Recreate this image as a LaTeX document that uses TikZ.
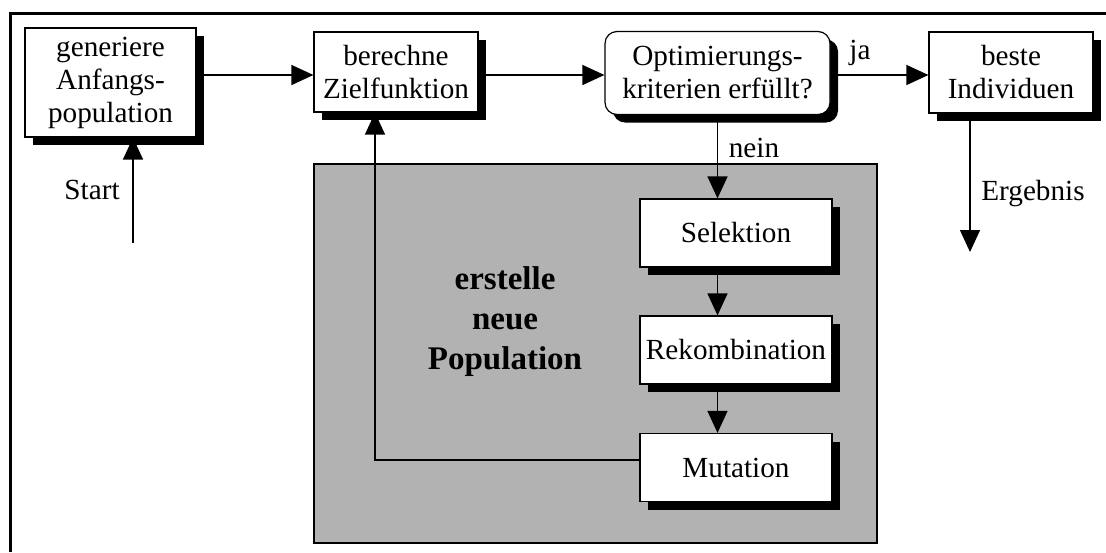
\documentclass[tikz,border=0pt]{standalone}
\usepackage{fontspec}
\setmainfont{Liberation Serif}
\usetikzlibrary{arrows.meta,shadows}

\definecolor{grau}{RGB}{178,178,178}

\tikzset{
  kasten/.style={draw, fill=white, line width=0.6pt, align=center, inner sep=0pt,
    drop shadow={shadow xshift=4pt, shadow yshift=-4pt, fill=black, opacity=1}},
  pfeil/.style={-{Triangle[length=11pt,width=10pt]}, line width=0.7pt},
}

\begin{document}
\begin{tikzpicture}[x=0.5pt, y=-0.5pt, font=\fontsize{14.6}{16.5}\selectfont]
        \useasboundingbox (0,0) rectangle (1106,552);
        \draw[line width=1.5pt] (10,552) -- (10,13) -- (1106,13);

        \filldraw[fill=grau, line width=0.7pt] (314,164) rectangle (877,543);
        \node[font=\fontsize{16.5}{20}\selectfont\bfseries, align=center] (neu) at (505,322) {erstelle\\neue\\Population};

        \node[kasten, minimum width=85.5pt, minimum height=54.5pt] (gen) at (110.5,82.5) {generiere\\Anfangs-\\population};
        \node[kasten, minimum width=82pt, minimum height=40pt] (ziel) at (396,72) {berechne\\Zielfunktion};
        \node[kasten, rounded corners=6pt, minimum width=112.5pt, minimum height=41.5pt] (krit) at (717.5,73) {Optimierungs-\\kriterien erfüllt?};
        \node[kasten, minimum width=82pt, minimum height=40.5pt] (beste) at (1011,72.5) {beste\\Individuen};

        \node[kasten, minimum width=96pt, minimum height=34pt] (sel) at (736,233) {Selektion};
        \node[kasten, minimum width=96pt, minimum height=34pt] (rek) at (736,350) {Rekombination};
        \node[kasten, minimum width=96pt, minimum height=34pt] (mut) at (736,467.5) {Mutation};

        \coordinate (start) at (133,243);
        \coordinate (erg) at (970,252);
        \coordinate (rueck) at (375,460);

        \draw[pfeil] (start) -- (start |- gen.south) node[pos=0.5, anchor=east, xshift=-3pt] {Start};
        \draw[pfeil] (gen.east |- 0,75) -- (ziel.west |- 0,75);
        \draw[pfeil] (ziel.east |- 0,75) -- (krit.west |- 0,75);
        \draw[pfeil] (krit.east |- 0,75) -- (beste.west |- 0,75) node[pos=0.3, anchor=south, yshift=1pt] {ja};
        \draw[pfeil] (erg |- beste.south) -- (erg) node[pos=0.58, anchor=west, xshift=2pt] {Ergebnis};

        \draw[pfeil] (krit.south) -- (krit.south |- sel.north) node[pos=0.4, anchor=west, xshift=2pt] {nein};
        \draw[pfeil] (krit.south |- sel.south) -- (krit.south |- rek.north);
        \draw[pfeil] (krit.south |- rek.south) -- (krit.south |- mut.north);
        \draw[pfeil] (mut.west |- rueck) -- (rueck) -- (rueck |- ziel.south);
\end{tikzpicture}
\end{document}
